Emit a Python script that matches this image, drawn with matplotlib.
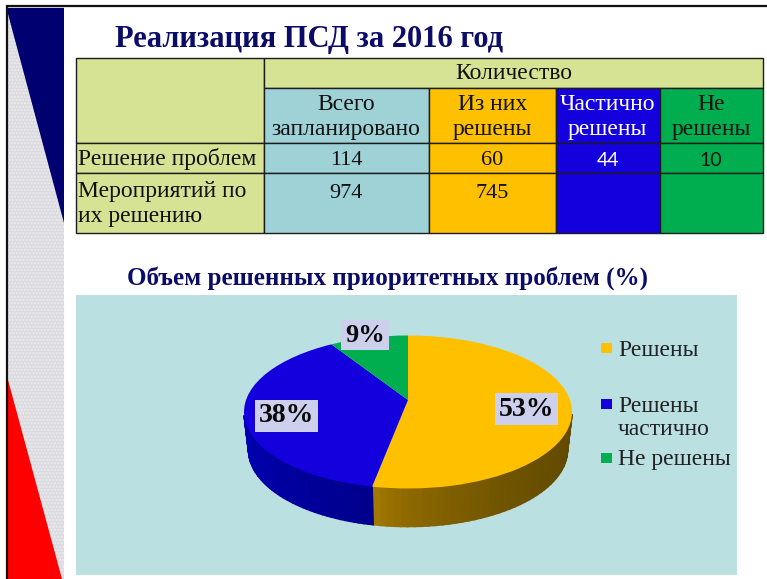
import numpy as np
import matplotlib
matplotlib.use('Agg')
import matplotlib.pyplot as plt
from matplotlib.patches import Rectangle, Polygon
from matplotlib.transforms import Transform

SERIF = ['Liberation Serif', 'DejaVu Serif']
NAVY = '#0b0b68'
OLIVE = '#d6e294'
TEAL = '#9fd2d7'
ORANGE = '#ffc000'
BLUE = '#1400dc'
GREEN = '#00ae50'

# table data
title = 'Реализация ПСД за 2016 год'
group_header = 'Количество'
col_headers = ['Всего\nзапланировано', 'Из них\nрешены', 'Частично\nрешены', 'Не\nрешены']
row_labels = ['Решение проблем', 'Мероприятий по\nих решению']
problems = ['114', '60', '44', '10']
measures = ['974', '745', '', '']

# pie data
pie_title = 'Объем решенных приоритетных проблем (%)'
pie_names = ['Решены', 'Решены\nчастично', 'Не решены']
pie_values = [53, 38, 9]
pie_colors = [ORANGE, BLUE, GREEN]

fig = plt.figure(figsize=(7.67, 5.79), dpi=100)
ax = fig.add_axes([0, 0, 1, 1])


def pixel_view():
    ax.set_xlim(0, 767)
    ax.set_ylim(579, 0)
    ax.set_aspect('auto')
    ax.axis('off')


def box(x0, y0, x1, y1, color, **kw):
    ax.add_patch(Rectangle((x0, y0), x1 - x0, y1 - y0, facecolor=color, **kw))


# left decoration
box(8, 7, 64, 579, '#dcdce0', edgecolor='#ececef', hatch='.....', linewidth=0)
ax.add_patch(Polygon([(8, 8), (64, 8), (64, 223), (8, 14)], facecolor='#000070', edgecolor='none'))
ax.add_patch(Polygon([(8, 380), (8, 579), (62, 579)], facecolor='#ff0000', edgecolor='none'))
ax.plot([7, 7, 767], [579, 6, 6], color='#111111', lw=1.6, solid_joinstyle='miter')

ax.text(115, 40, title, family=SERIF, weight='bold', fontsize=22, color=NAVY, va='center')

# table
xs = [75.5, 264, 428.5, 556, 659.5, 763]
ys = [57.5, 88, 142.5, 173, 233]
col_fill = [TEAL, ORANGE, BLUE, GREEN]
line = dict(edgecolor='#1c1c1c', linewidth=1)
TS = 17

box(xs[0], ys[0], xs[1], ys[2], OLIVE, **line)
box(xs[1], ys[0], xs[5], ys[1], OLIVE, **line)
ax.text((xs[1] + xs[5]) / 2, (ys[0] + ys[1]) / 2 + 0.5, group_header, family=SERIF,
        fontsize=TS, ha='center', va='center', color='#111111')

for i in range(2):
    box(xs[0], ys[i + 2], xs[1], ys[i + 3], OLIVE, **line)
    ax.text(xs[0] + 2, (ys[i + 2] + ys[i + 3]) / 2 + 1, row_labels[i], family=SERIF,
            fontsize=TS, va='center', color='#111111', linespacing=1.22)

for i in range(4):
    tc = 'white' if col_fill[i] == BLUE else '#111111'
    cx = (xs[i + 1] + xs[i + 2]) / 2
    for j in range(1, 4):
        box(xs[i + 1], ys[j], xs[i + 2], ys[j + 1], col_fill[i], **line)
    ax.text(cx, (ys[1] + ys[2]) / 2 + 1.5, col_headers[i], family=SERIF, fontsize=TS,
            ha='center', va='center', color=tc, linespacing=1.27)
    fam = ['Lato', 'DejaVu Sans'] if i >= 2 else SERIF
    ax.text(cx, (ys[2] + ys[3]) / 2 + 2.5, problems[i], family=fam, fontsize=14 if i >= 2 else 16,
            ha='center', va='center', color=tc)
    ax.text(cx, 194, measures[i], family=SERIF, fontsize=16, ha='center', va='center', color=tc)

ax.text(127, 278, pie_title, family=SERIF, weight='bold', fontsize=18, color=NAVY, va='center')

# chart background
box(76, 295, 737, 575, '#bae0e2', edgecolor='none')

# pie geometry, in pixels
cx, cy, rx, ry = 408, 412, 164, 76.5
tilt = -0.157
depth = 38
shrink = 0.972


class Tilted(Transform):
    # unit pie to a perspective ellipse, the pie centre moves up from the ellipse centre
    input_dims = 2
    output_dims = 2
    is_affine = False

    def transform_non_affine(self, values):
        v = np.asarray(values, dtype=float)
        x, y = v[:, 0], -v[:, 1]
        d = 1 + tilt * y
        return np.column_stack([cx + rx * x * np.sqrt(1 - tilt ** 2) / d,
                                cy + ry * (y + tilt) / d])


tilted = Tilted()
fracs = np.array(pie_values) / sum(pie_values)
edges = np.concatenate([[0], np.cumsum(fracs)]) * 2 * np.pi

# side of the pie, shaded strip by strip, only the front half shows
side_left = [np.array([165, 122, 0]), np.array([0, 0, 178]), np.array([0, 110, 50])]
side_right = [np.array([98, 74, 0]), np.array([0, 0, 140]), np.array([0, 110, 50])]
for k in range(3):
    t = np.linspace(edges[k], edges[k + 1], 90)
    p = tilted.transform_non_affine(np.column_stack([np.sin(t), np.cos(t)]))
    low = np.column_stack([cx + (p[:, 0] - cx) * shrink, p[:, 1] + depth])
    lo, hi = (378, 572) if k == 0 else (244, 378)
    for a in range(len(t) - 1):
        if p[a, 1] < cy + 4 and p[a + 1, 1] < cy + 4:
            continue
        mix = np.clip((p[a, 0] - lo) / (hi - lo), 0, 1) ** 0.6
        col = (side_left[k] * (1 - mix) + side_right[k] * mix) / 255
        ax.add_patch(Polygon([p[a], p[a + 1], low[a + 1], low[a]],
                             facecolor=col, edgecolor=col, linewidth=1.2))

wedges, _ = ax.pie(pie_values, colors=pie_colors, startangle=90, counterclock=False,
                   wedgeprops=dict(linewidth=0))
for w in wedges:
    w.set_transform(tilted + ax.transData)
pixel_view()

label_pos = [(526.5, 409), (286.5, 416), (365, 335)]
label_size = [20, 20, 19]
for v, (lx, ly), fs in zip(pie_values, label_pos, label_size):
    ax.text(lx, ly, f'{v}%', family=SERIF, weight='bold', fontsize=fs, ha='center', va='center',
            color='#0a0a0a', bbox=dict(facecolor='#ccd0ec', edgecolor='none', pad=2.6))

# legend
legend_y = [348, 404, 458]
text_y = [350, 418, 460]
for name, col, ly, ty in zip(pie_names, pie_colors, legend_y, text_y):
    box(601, ly - 5, 612, ly + 5, col, edgecolor='none')
    ax.text(618, ty, name, family=SERIF, fontsize=17, va='center', color='#222222', linespacing=1.18)

fig.savefig('out.png', dpi=100)
